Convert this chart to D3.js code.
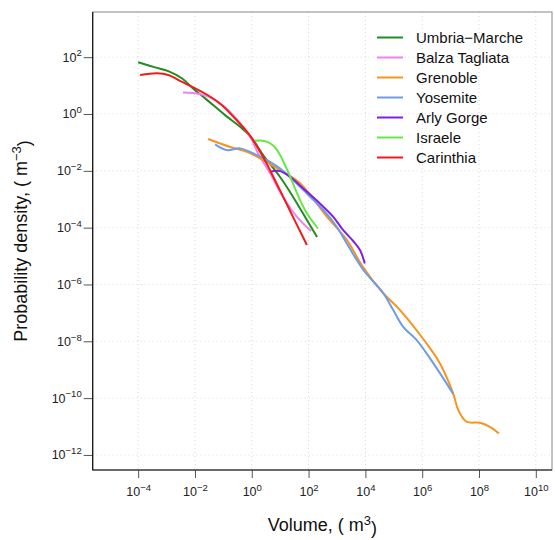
<!DOCTYPE html>
<html>
<head>
<meta charset="utf-8">
<script src="https://cdn.jsdelivr.net/npm/d3@7"></script>
<style>
body { margin: 0; background: #fff; }
text { font-family: "Liberation Sans", Arial, sans-serif; }
</style>
</head>
<body>
<svg id="visualisation" width="555" height="540"></svg>
<script>
// all values are log10 exponents
var xTicks = [-4, -2, 0, 2, 4, 6, 8, 10];
var yTicks = [2, 0, -2, -4, -6, -8, -10, -12];

var series = ["Umbria\u2212Marche", "Balza Tagliata", "Grenoble", "Yosemite", "Arly Gorge", "Israele", "Carinthia"];
var colors = ["#228B22", "#EE82EE", "#F7941D", "#6F9BEA", "#7F1FE6", "#66E844", "#F21A1A"];

var umbriaV = [-4.00, -3.40, -2.94, -2.45, -2.07, -1.64, -0.94, -0.34, 0.01, 0.40, 0.99, 1.45, 1.94, 2.30];
var umbriaP = [1.82, 1.64, 1.51, 1.25, 0.90, 0.55, -0.04, -0.51, -0.86, -1.45, -2.21, -2.91, -3.73, -4.33];

var balzaV = [-2.42, -2.07, -1.64, -1.12, -0.59, -0.06, 0.22, 0.64, 1.10, 1.59, 2.09];
var balzaP = [0.76, 0.74, 0.66, 0.38, -0.11, -0.80, -1.38, -2.08, -2.92, -3.62, -4.12];

var grenobleV = [-1.54, -0.76, -0.17, 0.40, 0.99, 1.70, 2.65, 3.35, 3.91, 4.63, 5.22, 6.15, 6.62, 7.09, 7.27, 7.56, 8.03, 8.38, 8.70];
var grenobleP = [-0.88, -1.16, -1.33, -1.62, -1.97, -2.44, -3.62, -4.44, -5.38, -6.31, -6.90, -8.07, -8.77, -9.83, -10.42, -10.83, -10.87, -11.01, -11.24];

var yosemiteV = [-1.29, -0.88, -0.41, 0.06, 0.53, 0.99, 1.46, 1.93, 2.52, 2.99, 3.34, 3.93, 4.63, 4.98, 5.33, 5.80, 6.39, 7.09];
var yosemiteP = [-1.07, -1.27, -1.21, -1.39, -1.62, -1.91, -2.33, -2.79, -3.38, -3.97, -4.55, -5.49, -6.31, -6.90, -7.49, -7.95, -8.77, -9.85];

var arlyV = [0.64, 0.99, 1.35, 1.81, 2.40, 2.87, 3.22, 3.57, 3.81, 3.98];
var arlyP = [-2.03, -2.01, -2.21, -2.62, -3.15, -3.62, -4.09, -4.47, -4.79, -5.26];

var israeleV = [0.05, 0.30, 0.55, 0.80, 1.00, 1.24, 1.45, 1.70, 1.94, 2.33];
var israeleP = [-0.95, -0.93, -0.98, -1.15, -1.45, -1.95, -2.44, -3.03, -3.49, -4.03];

var carinthiaV = [-3.93, -3.33, -2.94, -2.45, -1.99, -1.54, -1.05, -0.59, -0.10, 0.40, 0.99, 1.45, 1.94];
var carinthiaP = [1.37, 1.43, 1.37, 1.13, 0.90, 0.66, 0.31, -0.16, -0.71, -1.51, -2.68, -3.62, -4.61];

var vV = [umbriaV, balzaV, grenobleV, yosemiteV, arlyV, israeleV, carinthiaV];
var vP = [umbriaP, balzaP, grenobleP, yosemiteP, arlyP, israeleP, carinthiaP];

var vis = d3.select("#visualisation"),
    LEFT = 92.7, RIGHT = 552, TOP = 12, BOTTOM = 470;

var xScale = d3.scaleLog()
    .domain([Math.pow(10, -5.6), Math.pow(10, 10.57)])
    .range([LEFT, RIGHT]);
var yScale = d3.scaleLog()
    .domain([Math.pow(10, -12.53), Math.pow(10, 3.59)])
    .range([BOTTOM, TOP]);

// dotted grid at labelled decades
vis.append("g").selectAll("line.gx")
    .data(xTicks).enter().append("line")
    .attr("x1", function (d) { return xScale(Math.pow(10, d)); })
    .attr("x2", function (d) { return xScale(Math.pow(10, d)); })
    .attr("y1", TOP).attr("y2", BOTTOM)
    .attr("stroke", "#d8d8d8").attr("stroke-dasharray", "1,3");
vis.append("g").selectAll("line.gy")
    .data(yTicks).enter().append("line")
    .attr("y1", function (d) { return yScale(Math.pow(10, d)); })
    .attr("y2", function (d) { return yScale(Math.pow(10, d)); })
    .attr("x1", LEFT).attr("x2", RIGHT)
    .attr("stroke", "#d8d8d8").attr("stroke-dasharray", "1,3");

// axes
function supLabel(sel, d) {
    sel.text("10");
    sel.append("tspan")
        .attr("dy", "-0.55em")
        .style("font-size", "9.5px")
        .text(d < 0 ? "\u2212" + Math.abs(d) : d);
}

var xAxis = d3.axisBottom(xScale)
    .tickValues(xTicks.map(function (d) { return Math.pow(10, d); }))
    .tickSize(8)
    .tickFormat("");
var gx = vis.append("g")
    .attr("transform", "translate(0," + BOTTOM + ")")
    .call(xAxis);
gx.select(".domain").remove();
gx.selectAll(".tick line").attr("stroke", "#555");
gx.selectAll(".tick").data(xTicks).append("text")
    .attr("y", 26)
    .attr("fill", "#222")
    .style("font-size", "12.5px")
    .attr("text-anchor", "middle")
    .each(function (d) { supLabel(d3.select(this), d); });

var yAxis = d3.axisLeft(yScale)
    .tickValues(yTicks.map(function (d) { return Math.pow(10, d); }))
    .tickSize(9)
    .tickFormat("");
var gy = vis.append("g")
    .attr("transform", "translate(" + LEFT + ",0)")
    .call(yAxis);
gy.select(".domain").remove();
gy.selectAll(".tick line").attr("stroke", "#555");
gy.selectAll(".tick").data(yTicks).append("text")
    .attr("x", -11)
    .attr("y", 4)
    .attr("fill", "#222")
    .style("font-size", "12.5px")
    .attr("text-anchor", "end")
    .each(function (d) { supLabel(d3.select(this), d); });

// frame
vis.append("rect")
    .attr("x", LEFT).attr("y", TOP)
    .attr("width", RIGHT - LEFT).attr("height", BOTTOM - TOP)
    .attr("fill", "none").attr("stroke", "#888");
vis.append("path")
    .attr("d", "M" + LEFT + "," + TOP + "V" + BOTTOM + "H" + RIGHT)
    .attr("fill", "none").attr("stroke", "#111").attr("stroke-width", 1.2);

// axis titles
var xt = vis.append("text")
    .attr("x", (LEFT + RIGHT) / 2)
    .attr("y", 531)
    .attr("text-anchor", "middle")
    .style("font-size", "18px")
    .attr("fill", "#111")
    .text("Volume, ( m");
xt.append("tspan").attr("dy", "-0.5em").style("font-size", "13px").text("3");
xt.append("tspan").attr("dy", "0.5em").text(")");

var yt = vis.append("text")
    .attr("transform", "translate(27," + ((TOP + BOTTOM) / 2) + ") rotate(-90)")
    .attr("text-anchor", "middle")
    .style("font-size", "18px")
    .attr("fill", "#111")
    .text("Probability density, ( m");
yt.append("tspan").attr("dy", "-0.5em").style("font-size", "13px").text("\u22123");
yt.append("tspan").attr("dy", "0.5em").text(")");

// density lines
var lineGen = d3.line()
    .x(function (d) { return xScale(Math.pow(10, d[0])); })
    .y(function (d) { return yScale(Math.pow(10, d[1])); })
    .curve(d3.curveCatmullRom.alpha(0.5));

series.forEach(function (name, i) {
    var pts = vV[i].map(function (v, j) { return [v, vP[i][j]]; });
    vis.append("path")
        .attr("d", lineGen(pts))
        .attr("stroke", colors[i])
        .attr("stroke-width", 2)
        .attr("fill", "none");
});

// legend
var leg = vis.append("g").selectAll("g")
    .data(series).enter().append("g")
    .attr("transform", function (d, i) { return "translate(0," + (37.5 + i * 20) + ")"; });
leg.append("line")
    .attr("x1", 377).attr("x2", 403)
    .attr("stroke", function (d, i) { return colors[i]; })
    .attr("stroke-width", 2);
leg.append("text")
    .attr("x", 416).attr("y", 5.5)
    .style("font-size", "15px")
    .attr("fill", "#111")
    .text(function (d) { return d; });
</script>
</body>
</html>
